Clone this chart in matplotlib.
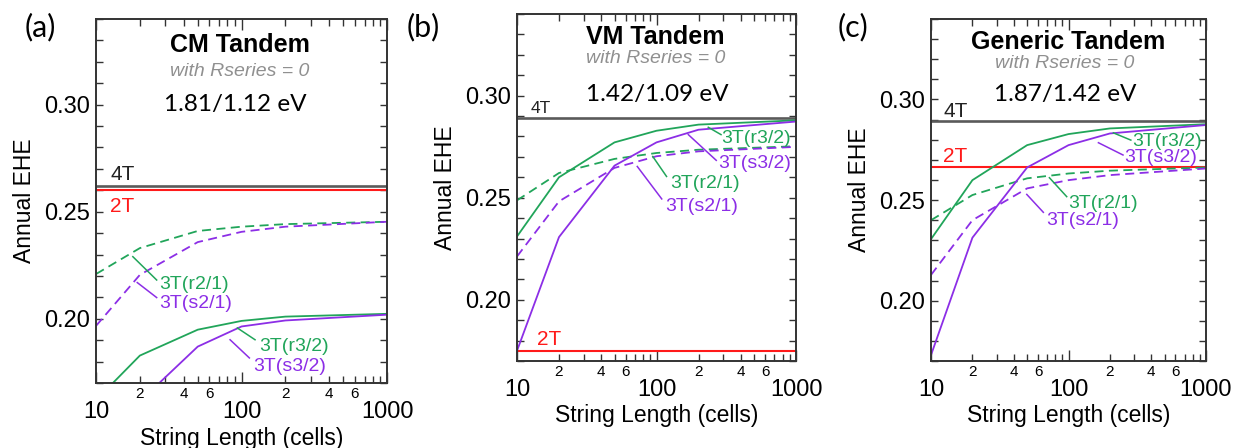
import matplotlib
matplotlib.use("Agg")
import matplotlib.pyplot as plt
from matplotlib.ticker import LogLocator, FixedLocator, FixedFormatter, MultipleLocator, NullFormatter

plt.rcParams['font.family'] = ['Liberation Sans', 'DejaVu Sans']

# ---------------- data ----------------
string_len = [10, 20, 50, 100, 200, 1000]

# Panel (a) CM Tandem 1.81/1.12 eV
a_4T = 0.2622
a_2T = 0.2600
a_r21 = [0.2209, 0.2330, 0.2410, 0.2430, 0.2442, 0.2453]
a_s21 = [0.1967, 0.2205, 0.2358, 0.2406, 0.2430, 0.2453]
a_r32 = [0.1620, 0.1828, 0.1949, 0.1990, 0.2010, 0.2023]
a_s32 = [0.1300, 0.1614, 0.1870, 0.1964, 0.1992, 0.2019]

# Panel (b) VM Tandem 1.42/1.09 eV
b_4T = 0.2890
b_2T = 0.1750
b_r21 = [0.2487, 0.2621, 0.2690, 0.2719, 0.2735, 0.2752]
b_s21 = [0.2212, 0.2482, 0.2646, 0.2703, 0.2727, 0.2749]
b_r32 = [0.2310, 0.2600, 0.2771, 0.2828, 0.2858, 0.2879]
b_s32 = [0.1750, 0.2307, 0.2657, 0.2771, 0.2833, 0.2873]

# Panel (c) Generic Tandem 1.87/1.42 eV
c_4T = 0.2892
c_2T = 0.2666
c_r21 = [0.2400, 0.2525, 0.2608, 0.2632, 0.2646, 0.2662]
c_s21 = [0.2128, 0.2400, 0.2558, 0.2599, 0.2624, 0.2657]
c_r32 = [0.2306, 0.2599, 0.2773, 0.2828, 0.2856, 0.2877]
c_s32 = [0.1730, 0.2313, 0.2662, 0.2773, 0.2831, 0.2873]

panel_letters = ["(a)", "(b)", "(c)"]
titles = ["CM Tandem", "VM Tandem", "Generic Tandem"]
bandgaps = ["1.81/1.12 eV", "1.42/1.09 eV", "1.87/1.42 eV"]
subtitle = "with Rseries = 0"
series_names = ["3T(r2/1)", "3T(s2/1)", "3T(r3/2)", "3T(s3/2)"]
x_major_labels = ["10", "100", "1000"]
x_minor_vals = [20, 40, 60, 200, 400, 600]
x_minor_labels = ["2", "4", "6", "2", "4", "6"]
y_tick_vals = [0.20, 0.25, 0.30]
y_tick_labels = ["0.20", "0.25", "0.30"]

GREEN = "#21a55a"
PURPLE = "#8c2ee6"
RED = "#ff1a1a"
GRAY4T = "#5a5a5a"

fig = plt.figure(figsize=(12.33, 4.48), dpi=100)
positions = [
    [0.0779, 0.1451, 0.2360, 0.8125],
    [0.4193, 0.1942, 0.2263, 0.7746],
    [0.7551, 0.1942, 0.2230, 0.7634],
]
data = [
    (a_4T, a_2T, a_r21, a_s21, a_r32, a_s32),
    (b_4T, b_2T, b_r21, b_s21, b_r32, b_s32),
    (c_4T, c_2T, c_r21, c_s21, c_r32, c_s32),
]

# label placements: text position (left-aligned, vertically centered) and leader line
label_cfg = [
    {  # (a)
        "4T": (12.5, 0.2674, 15), "2T": (12.5, 0.2522),
        "3T(r2/1)": ((27.2, 0.2160), ((17.9, 0.2290), (26.1, 0.2181))),
        "3T(s2/1)": ((27.2, 0.2071), ((19.2, 0.2169), (26.1, 0.2099))),
        "3T(r3/2)": ((131.8, 0.1870), ((93.6, 0.1957), (123.8, 0.1902))),
        "3T(s3/2)": ((120.5, 0.1776), ((83.4, 0.1902), (113.2, 0.1817))),
    },
    {  # (b)
        "4T": (12.5, 0.2935, 12.5), "2T": (14.0, 0.1804),
        "3T(r3/2)": ((293, 0.2790), ((235, 0.2845), (290, 0.2809))),
        "3T(s3/2)": ((277, 0.2668), ((169, 0.2809), (268, 0.2683))),
        "3T(r2/1)": ((126, 0.2569), ((94, 0.2702), (118, 0.2604))),
        "3T(s2/1)": ((116, 0.2459), ((72.8, 0.2653), (109, 0.2494))),
    },
    {  # (c)
        "4T": (12.4, 0.2939, 15), "2T": (12.2, 0.2715),
        "3T(r3/2)": ((292, 0.2793), ((212, 0.2834), (284, 0.2798))),
        "3T(s3/2)": ((256, 0.2712), ((165, 0.2785), (249, 0.2724))),
        "3T(r2/1)": ((99.7, 0.2485), ((72.6, 0.2611), (97, 0.2517))),
        "3T(s2/1)": ((68.5, 0.2399), ((49.7, 0.2528), (65.6, 0.2439))),
    },
]

# (x, y) in axes fraction for title, subtitle, bandgap
title_pos = [
    ((0.495, 0.929), (0.495, 0.857), (0.478, 0.764)),
    ((0.497, 0.934), (0.497, 0.873), (0.502, 0.767)),
    ((0.497, 0.934), (0.486, 0.871), (0.487, 0.778)),
]
letter_pos = [(0.020, 0.94), (0.330, 0.94), (0.679, 0.94)]
xlabel_pad = [3, 2, 2]

for i, ax_pos in enumerate(positions):
    ax = fig.add_axes(ax_pos)
    v4T, v2T, r21, s21, r32, s32 = data[i]
    ax.axhline(v4T, color=GRAY4T, lw=1.9)
    ax.axhline(v2T, color=RED, lw=1.5)
    ax.plot(string_len, r21, color=GREEN, lw=1.3, ls=(0, (5, 3)))
    ax.plot(string_len, s21, color=PURPLE, lw=1.3, ls=(0, (5, 3)))
    ax.plot(string_len, r32, color=GREEN, lw=1.3)
    ax.plot(string_len, s32, color=PURPLE, lw=1.3)

    ax.set_xscale("log")
    ax.set_xlim(10, 1000)
    ax.set_ylim(0.17, 0.34)

    ax.xaxis.set_major_locator(FixedLocator([10, 100, 1000]))
    ax.xaxis.set_major_formatter(FixedFormatter(x_major_labels))
    ax.xaxis.set_minor_locator(LogLocator(base=10, subs=range(2, 10)))
    ax.xaxis.set_minor_formatter(NullFormatter())
    ax.yaxis.set_major_locator(FixedLocator(y_tick_vals))
    ax.yaxis.set_major_formatter(FixedFormatter(y_tick_labels))
    ax.yaxis.set_minor_locator(MultipleLocator(0.01))
    ax.tick_params(which="both", direction="in", top=True, right=True, width=1.0, color="#333333")
    ax.tick_params(axis="x", which="major", length=8, labelsize=17, pad=13)
    ax.tick_params(axis="x", which="minor", length=5)
    ax.tick_params(axis="y", which="both", length=5, labelsize=17, pad=4)
    for s in ax.spines.values():
        s.set_linewidth(1.4)
        s.set_color("#333333")

    for xv, lab in zip(x_minor_vals, x_minor_labels):
        ax.annotate(lab, xy=(xv, 0), xycoords=("data", "axes fraction"),
                    xytext=(0, -3), textcoords="offset points",
                    ha="center", va="top", fontsize=11)

    ax.set_xlabel("String Length (cells)", fontsize=16.5, labelpad=xlabel_pad[i])
    ax.set_ylabel("Annual EHE", fontsize=16.5, labelpad=6)

    tp = title_pos[i]
    ax.text(tp[0][0], tp[0][1], titles[i], transform=ax.transAxes, ha="center", va="center",
            fontsize=18, fontweight="bold")
    ax.text(tp[1][0], tp[1][1], subtitle, transform=ax.transAxes, ha="center", va="center",
            fontsize=14, style="italic", color="#909090")
    ax.text(tp[2][0], tp[2][1], bandgaps[i], transform=ax.transAxes, ha="center", va="center",
            fontsize=17.5, family=["Lato", "DejaVu Sans"])
    fig.text(letter_pos[i][0], letter_pos[i][1], panel_letters[i], ha="left", va="center",
             fontsize=22, family=["Lato", "DejaVu Sans"])

    cfg = label_cfg[i]
    x4, y4, f4 = cfg["4T"]
    ax.text(x4, y4, "4T", color="#222222", fontsize=f4, ha="left", va="center")
    x2, y2 = cfg["2T"]
    ax.text(x2, y2, "2T", color=RED, fontsize=15, ha="left", va="center")
    for name, col in zip(series_names, [GREEN, PURPLE, GREEN, PURPLE]):
        (tx, ty_), ((lx0, ly0), (lx1, ly1)) = cfg[name]
        ax.plot([lx0, lx1], [ly0, ly1], color=col, lw=1.1)
        ax.text(tx, ty_, name, color=col, fontsize=14, ha="left", va="center")

fig.savefig("out.png", dpi=100)
